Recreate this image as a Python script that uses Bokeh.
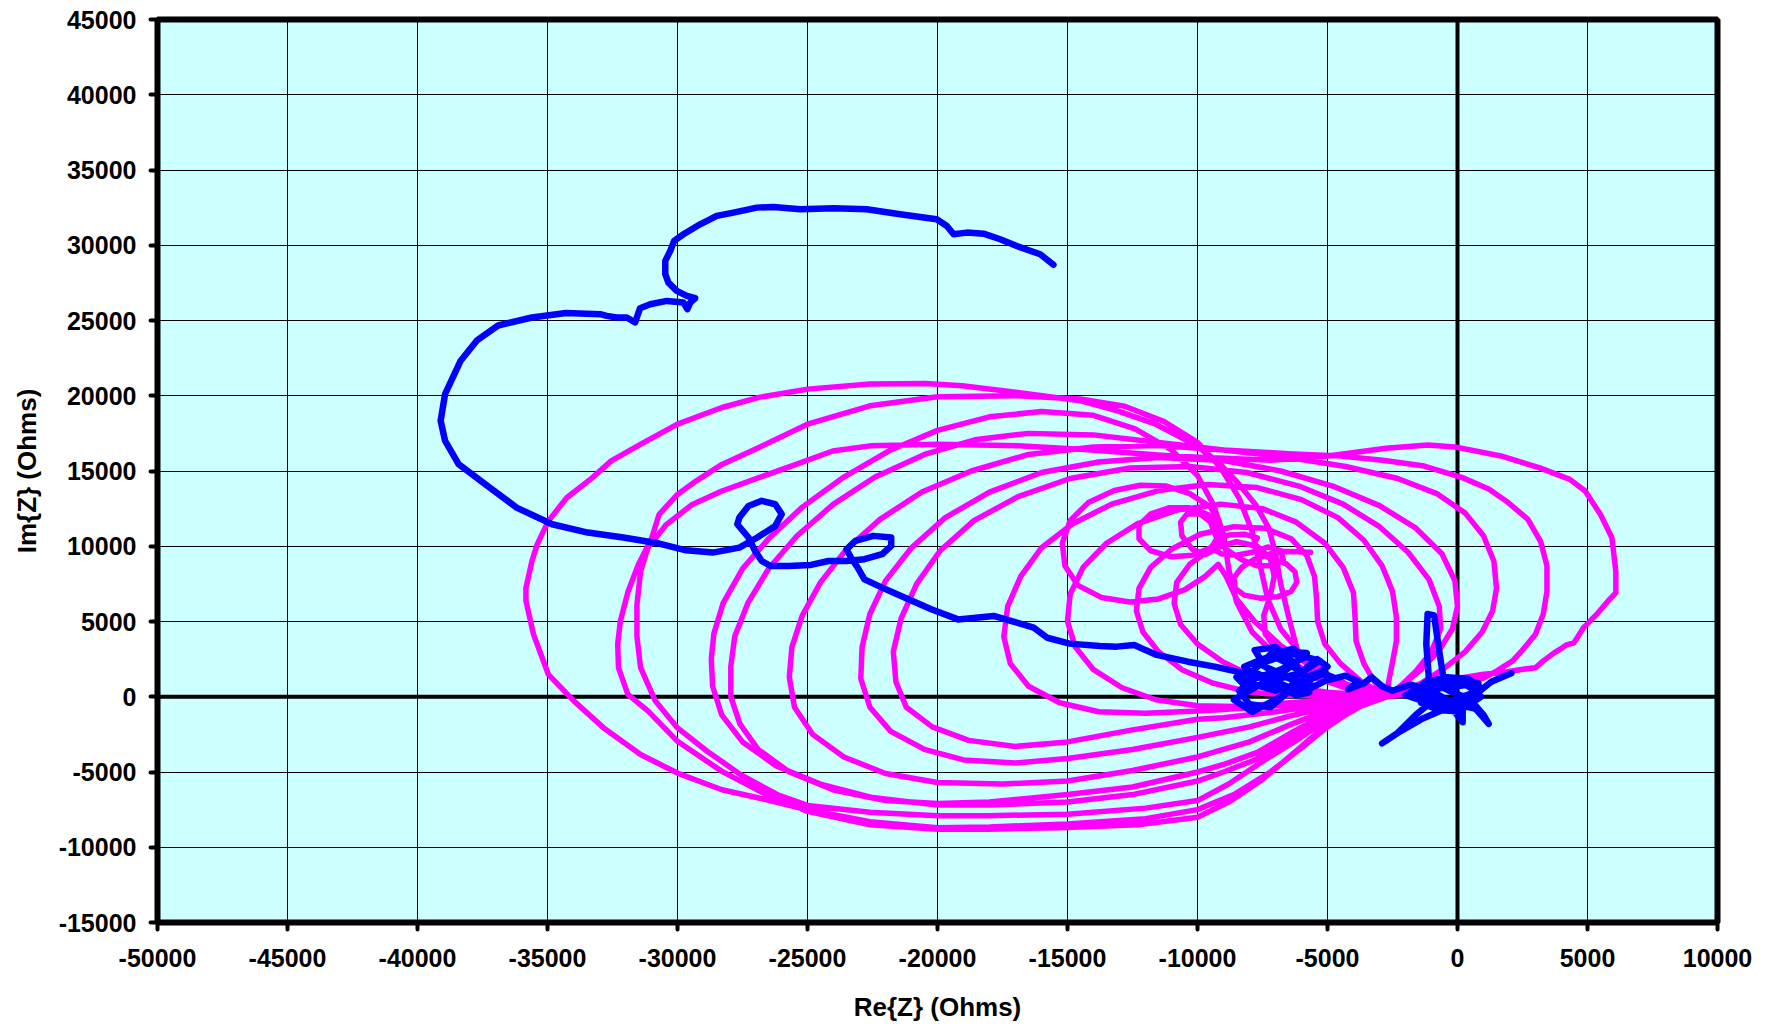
from bokeh.plotting import figure
from bokeh.models import Range1d, FixedTicker, NumeralTickFormatter, Span
from bokeh.embed import file_html
from bokeh.resources import INLINE

# ---------------- data (Ohms) ----------------
x_ticks = [-50000, -45000, -40000, -35000, -30000, -25000, -20000, -15000, -10000, -5000, 0, 5000, 10000]
y_ticks = [-15000, -10000, -5000, 0, 5000, 10000, 15000, 20000, 25000, 30000, 35000, 40000, 45000]

# magenta trace, loop by loop (x, y)
mag_inner = [(-5650, 9600), (-6200, 9640), (-6700, 9650), (-7200, 9500), (-7800, 9150), (-8300, 8600),
             (-8600, 7900), (-8550, 7200), (-8200, 6750), (-7600, 6550), (-6900, 6650), (-6400, 7000),
             (-6180, 7600), (-6250, 8300), (-6600, 8850), (-7200, 9200), (-7700, 9600), (-7850, 10100),
             (-7700, 10550), (-8200, 10800), (-8800, 10750), (-9300, 10400), (-9450, 9900), (-9100, 9500),
             (-8500, 9400), (-7900, 9600), (-7300, 9950), (-6800, 9700), (-6700, 9100), (-7100, 8700),
             (-7700, 8700), (-8300, 9100), (-8900, 9800), (-9300, 10700), (-9500, 11600), (-9900, 12150),
             (-10400, 12150), (-10650, 11600), (-10600, 10700), (-10200, 9800), (-9700, 9450), (-9300, 9800),
             (-9150, 10500), (-9200, 11300), (-9600, 12100), (-10300, 12550), (-11100, 12550), (-11800, 12150),
             (-12250, 11400), (-12250, 10500), (-11800, 9700), (-11000, 9300), (-10200, 9400), (-9500, 9900),
             (-9150, 10600), (-9150, 11500), (-9500, 12600), (-10300, 13500), (-11200, 14000), (-12200, 14050),
             (-13200, 13700), (-14200, 12900), (-14900, 11700), (-15200, 10200), (-15100, 8700), (-14600, 7400),
             (-13700, 6600), (-12600, 6300), (-11500, 6500), (-10500, 7100), (-9700, 8000), (-9200, 8800),
             (-8900, 8000), (-8500, 6500), (-7800, 5000), (-6800, 3400), (-5700, 2100), (-4400, 900), (-2700, 0)]
mag_loop_m = [(-3800, 150), (-5000, 300), (-6500, 650), (-7800, 1300), (-9000, 2300), (-10000, 3500),
              (-10650, 4800), (-10900, 6200), (-10800, 7600), (-10300, 8800), (-9500, 9800), (-8500, 10300),
              (-7700, 10000), (-7200, 9200), (-7050, 8000), (-7200, 6700), (-7450, 5400), (-7400, 4200),
              (-6900, 3000), (-6000, 1900), (-4800, 1000), (-3700, 400), (-2700, 0)]
mag_loop_l = [(-3800, 50), (-5000, 100), (-6500, 100), (-8000, 300), (-9400, 900), (-10600, 1800),
              (-11500, 3000), (-12100, 4300), (-12350, 5700), (-12250, 7200), (-11800, 8600), (-11000, 9800),
              (-9900, 10800), (-8600, 11300), (-7400, 11200), (-6400, 10500), (-5800, 9400), (-5500, 8000),
              (-5420, 6500), (-5380, 5000), (-5100, 3500), (-4500, 2200), (-3700, 1000), (-2700, 0)]
mag_loop_k = [(-3800, -100), (-5000, -200), (-6800, -450), (-8500, -650), (-10000, -600), (-11600, -200),
              (-12900, 600), (-14000, 1800), (-14700, 3300), (-15000, 5000), (-14900, 6800), (-14400, 8600),
              (-13500, 10200), (-12300, 11500), (-10800, 12400), (-9100, 12800), (-7500, 12500), (-6200, 11600),
              (-5100, 10200), (-4400, 8600), (-4000, 6900), (-3940, 5300), (-3900, 3700), (-3600, 2200),
              (-3200, 1000), (-2700, 0)]
mag_loop_j = [(-4000, -150), (-5000, -300), (-7000, -600), (-9000, -850), (-10000, -950), (-12000, -1100),
              (-13800, -1000), (-15300, -400), (-16500, 700), (-17200, 2200), (-17450, 4000), (-17300, 6000),
              (-16800, 8000), (-16000, 9900), (-14800, 11500), (-13300, 12800), (-11500, 13700), (-9600, 14100),
              (-7700, 13900), (-6000, 13100), (-4600, 11900), (-3600, 10400), (-2900, 8700), (-2500, 7000),
              (-2350, 5300), (-2350, 3700), (-2500, 2300), (-2650, 1000), (-2700, 0)]
mag_loop_i = [(-3800, -150), (-5000, -500), (-7000, -1000), (-9000, -1400), (-10000, -1500), (-12500, -2200),
              (-15000, -3000), (-17000, -3300), (-18800, -2900), (-20200, -2000), (-21200, -700), (-21600, 1000),
              (-21700, 3000), (-21400, 5200), (-20800, 7500), (-19900, 9700), (-18600, 11700), (-16900, 13300),
              (-14900, 14500), (-12600, 15200), (-10300, 15300), (-8100, 14900), (-6100, 14000), (-4400, 12800),
              (-3000, 11300), (-1900, 9600), (-1100, 7800), (-700, 6000), (-650, 4500), (-1000, 3000),
              (-1600, 1700), (-2200, 700), (-2700, 0)]
mag_loop_h = [(-3800, -250), (-5000, -700), (-6500, -1300), (-8000, -2000), (-10000, -2700), (-12500, -3500),
              (-15000, -4100), (-17000, -4400), (-19000, -4200), (-20500, -3500), (-21800, -2300), (-22600, -700),
              (-22950, 1200), (-22900, 3300), (-22600, 5500), (-22000, 7700), (-21000, 9900), (-19700, 11900),
              (-18000, 13600), (-16000, 14900), (-13800, 15600), (-11500, 15900), (-9000, 15700), (-6800, 15000),
              (-4800, 14000), (-3000, 12700), (-1600, 11200), (-600, 9500), (-100, 7700), (0, 6000), (-200, 4500),
              (-700, 3100), (-1400, 1800), (-2100, 800), (-2700, 0)]
mag_loop_g = [(-3800, -300), (-5000, -900), (-6500, -1900), (-8000, -3000), (-10000, -4000), (-12500, -4900),
              (-15000, -5600), (-17500, -5800), (-20000, -5700), (-22000, -5100), (-23600, -4000), (-24800, -2500),
              (-25500, -700), (-25700, 1300), (-25600, 3300), (-25200, 5400), (-24500, 7600), (-23500, 9800),
              (-22200, 11800), (-20600, 13600), (-18700, 15000), (-16500, 16100), (-14000, 16600), (-11500, 16700),
              (-9000, 16400), (-6500, 15900), (-4300, 15300), (-2300, 14500), (-800, 13500), (300, 12200),
              (1000, 10700), (1400, 9000), (1500, 7200), (1350, 5700), (950, 4300), (300, 3000), (-500, 1900),
              (-1400, 900), (-2700, 0)]
mag_loop_f = [(-3800, -400), (-5000, -1100), (-6300, -2300), (-7700, -3700), (-9000, -4500), (-10000, -5000),
              (-12500, -6000), (-15000, -6500), (-18000, -7000), (-20000, -7100), (-22000, -6900), (-24000, -6200),
              (-25700, -5000), (-26900, -3500), (-27600, -1800), (-27950, 0), (-27950, 2000), (-27800, 4000),
              (-27300, 6200), (-26500, 8500), (-25400, 10700), (-24000, 12800), (-22400, 14600), (-20500, 16100),
              (-18500, 17100), (-16500, 17500), (-14000, 17400), (-11500, 16900), (-9000, 16400), (-6500, 16150),
              (-4500, 16000), (-2800, 15700), (-1280, 15330), (190, 14560), (1200, 13800), (1950, 12900),
              (2700, 11800), (3200, 10300), (3440, 8700), (3440, 7000), (3300, 5500), (3000, 4160), (2500, 3100),
              (2120, 2380), (1500, 1700), (940, 1200), (0, 750), (-1200, 350), (-2700, 0)]
mag_loop_d = [(-3800, -500), (-5000, -1300), (-6300, -2600), (-7800, -4200), (-9000, -5000), (-10000, -5600),
              (-12500, -6500), (-15000, -7000), (-18000, -7200), (-20000, -7200), (-22500, -6700), (-24500, -5800),
              (-26200, -4600), (-27500, -3000), (-28300, -1200), (-28650, 700), (-28700, 2500), (-28600, 4200),
              (-28250, 6200), (-27500, 8500), (-26500, 10500), (-25200, 12600), (-23600, 14600), (-21800, 16400),
              (-20000, 17700), (-18000, 18600), (-16000, 18950), (-14000, 18700), (-12400, 17800), (-11000, 16400),
              (-10000, 14700), (-9400, 12800), (-9000, 10800), (-8800, 8500), (-8500, 6300), (-7900, 4300),
              (-6900, 2600), (-5500, 1300), (-4000, 400), (-2700, 0)]
mag_loop_c = [(-3700, -600), (-4400, -1300), (-5000, -1800), (-6200, -3600), (-7500, -5500), (-8800, -7000),
              (-10000, -8000), (-12300, -8500), (-15300, -8700), (-18000, -8800), (-20000, -8800), (-22600, -8510),
              (-25000, -7620), (-26580, -6510), (-28290, -4960), (-30000, -2960), (-31130, -960), (-31910, 160),
              (-32270, 1930), (-32300, 3500), (-32200, 5000), (-31900, 7000), (-31500, 8800), (-31000, 10500),
              (-30710, 12110), (-30000, 13440), (-29290, 14330), (-28290, 15440), (-26870, 16560), (-25000, 18110),
              (-22600, 19330), (-20000, 19930), (-16910, 20000), (-14520, 19780), (-12800, 19300), (-11300, 18300),
              (-10000, 16900), (-9100, 15200), (-8400, 13200), (-7900, 11000), (-7600, 8800), (-7300, 6500),
              (-6800, 4500), (-6000, 2800), (-5000, 1500), (-3900, 500), (-2700, 0)]
mag_loop_a = [(-3600, -500), (-4300, -1200), (-5000, -2000), (-6000, -3400), (-7200, -5000), (-8600, -6500),
              (-10000, -7500), (-12000, -8100), (-15000, -8450), (-18000, -8650), (-20000, -8700), (-22600, -8300),
              (-25000, -7510), (-26870, -6730), (-28290, -6180), (-30000, -5070), (-31420, -3840), (-32840, -2070),
              (-33980, -290), (-34970, 1490), (-35540, 4160), (-35830, 6380), (-35830, 7220), (-35600, 9000),
              (-35400, 10110), (-34970, 11670), (-34260, 13220), (-33270, 14560), (-32550, 15670), (-31410, 16780),
              (-30000, 18110), (-28290, 19220), (-26870, 19890), (-25000, 20440), (-22600, 20780), (-20470, 20820),
              (-19050, 20670), (-16910, 20220), (-14520, 19670), (-13080, 19000), (-11610, 18110), (-10130, 16780),
              (-9250, 15670), (-8510, 14330), (-7770, 12780), (-7260, 11220), (-7000, 9500), (-6800, 7500),
              (-6450, 5000), (-6150, 3040), (-5700, 1900), (-4800, 1000), (-3800, 350), (-2700, 0)]
mag_loop_b = [(-3700, -500), (-5000, -1500), (-6200, -2900), (-7500, -4300), (-8800, -5800), (-10000, -6900),
              (-12000, -7400), (-15000, -7800), (-18000, -7900), (-20000, -7900), (-22600, -7670), (-25000, -7220),
              (-26150, -6510), (-27570, -5180), (-28860, -3620), (-30000, -2070), (-30850, -290), (-31420, 1930),
              (-31560, 4000), (-31560, 6110), (-31420, 8330), (-31140, 9890), (-30430, 11440), (-29430, 12780),
              (-28290, 13670), (-26870, 14560), (-25440, 15440), (-24030, 16330), (-22600, 16670), (-20000, 16780),
              (-16900, 16670), (-14500, 16440), (-11000, 16000), (-7180, 15710), (-4970, 16000), (-2760, 16510),
              (-1140, 16730), (-100, 16600), (1670, 16000), (3140, 15220), (4320, 14440), (4910, 13670),
              (5500, 12110), (5940, 10560), (6090, 8330), (6090, 6900), (5800, 6380), (5350, 5470), (4840, 4580),
              (4600, 3900), (4470, 3580), (4200, 3450), (4030, 3250), (3700, 2900), (3290, 2370), (3000, 1930),
              (2400, 1800), (1670, 1600), (1000, 1500), (190, 1260), (-600, 1000), (-1280, 710), (-2000, 450),
              (-2700, 0)]

# blue trace (x, y)
blue_arc = [(-15540, 28700), (-16050, 29400), (-16950, 29950), (-17590, 30400), (-18230, 30770), (-18870, 30840),
            (-19380, 30730), (-19640, 31280), (-20030, 31730), (-20670, 31880), (-21440, 32060), (-22080, 32230),
            (-22720, 32390), (-24000, 32460), (-25280, 32390), (-26310, 32540), (-26950, 32500), (-27850, 32170),
            (-28490, 31950), (-29130, 31390), (-29770, 30730), (-30130, 30290), (-30280, 29620), (-30470, 28960),
            (-30470, 28080), (-30350, 27520), (-30030, 26970), (-29640, 26640), (-29320, 26480), (-29510, 26190),
            (-29620, 25750), (-29770, 26190), (-30410, 26300), (-31050, 26080), (-31440, 25820), (-31630, 24870),
            (-31950, 25200), (-32330, 25200), (-32720, 25310), (-32970, 25420), (-34290, 25500), (-35600, 25200),
            (-36900, 24670), (-37700, 23700), (-38340, 22330), (-38940, 20110), (-39110, 18340), (-38940, 17010),
            (-38420, 15450), (-37220, 13900), (-36190, 12570), (-34820, 11460), (-33450, 10910), (-32080, 10580),
            (-30700, 10180), (-29670, 9730), (-28640, 9580)]
blue_loops = [(-27620, 9910), (-26930, 10580), (-26240, 11350), (-25990, 12130), (-26240, 12790), (-26760, 13020),
              (-27270, 12680), (-27620, 11910), (-27700, 11460), (-27270, 10580), (-27020, 9690), (-26760, 9020),
              (-26420, 8690), (-25730, 8690), (-24870, 8760), (-24190, 9020), (-23500, 9020), (-22810, 9140),
              (-22130, 9470), (-21780, 10020), (-21780, 10580), (-22470, 10690), (-23160, 10350), (-23500, 9800),
              (-23330, 9250), (-23070, 8580), (-22810, 7800), (-22130, 7250), (-21270, 6590), (-20240, 5810),
              (-19210, 5140), (-17840, 5370), (-17150, 5030), (-16300, 4590), (-15780, 3920), (-14920, 3530),
              (-13760, 3370), (-13110, 3330), (-12430, 3440), (-12000, 3100), (-11570, 2780), (-10370, 2330),
              (-9340, 2000), (-8480, 1670)]
blue_tangle1 = [(-8000, 1500), (-7200, 2800), (-6300, 3200), (-5900, 2600), (-6800, 1800), (-7800, 1200),
                (-8400, 400), (-8000, -500), (-7200, -700), (-6600, 200), (-6100, 1500), (-5400, 2500),
                (-5000, 2000), (-5800, 1000), (-7000, 400), (-8200, 1000), (-7600, 2200), (-6400, 2900),
                (-5300, 2400), (-6000, 1600), (-7500, 900), (-8600, -200), (-7900, -1000), (-6800, 0),
                (-6000, 900), (-5200, 1500), (-4800, 1300), (-5500, 700), (-6500, 1300), (-7400, 2000),
                (-7800, 3100), (-7000, 3300), (-6300, 2300), (-5600, 600), (-6200, 400), (-7100, 1100),
                (-7900, 1700), (-8500, 1300), (-8100, 600), (-7300, 900), (-6500, 1900), (-5800, 2900),
                (-6600, 3000), (-7500, 2500), (-8200, 2000), (-7700, 1400), (-6900, 700), (-6200, 100),
                (-5700, 300), (-6300, 1100), (-7000, 1600), (-7700, 2300), (-7100, 2700), (-6400, 2100),
                (-5800, 1300), (-5100, 1800), (-5000, 1100), (-4300, 1400), (-3800, 1000), (-4200, 500),
                (-3600, 900), (-3300, 1300), (-2900, 700), (-2500, 400)]
blue_tangle2 = [(-1800, 800), (-1000, 400), (-300, -300), (500, 200), (800, 900), (0, 1100), (-800, 500),
                (-1400, -400), (-700, -900), (300, -700), (900, 0), (400, 800), (-500, 600), (-1100, 1200),
                (-1200, 3500), (-1150, 5500), (-900, 5400), (-700, 3000), (-500, 800), (0, 200), (600, -400),
                (1000, -1200), (1200, -1800), (700, -800), (0, -500), (-900, -200), (-1600, -1200), (-2300, -2400),
                (-2900, -3100), (-2200, -2300), (-1400, -1500), (-600, -900), (200, -1000), (200, -1700),
                (-200, -800), (-1000, 0), (-1800, 200), (-1200, 1000), (-400, 1300), (400, 1200), (900, 600),
                (600, -200), (-200, 300), (-900, 900), (-1500, 600), (-2000, 100), (-1300, -300), (-400, -500),
                (400, -300), (700, 400), (200, 900), (-600, 1000), (-1400, 300), (-800, -600), (100, -100),
                (800, 300), (1300, 1000), (2070, 1560)]

# ---------------- build ----------------
mag_path = (mag_inner + mag_loop_m + mag_loop_l + mag_loop_k + mag_loop_j + mag_loop_i + mag_loop_h
            + mag_loop_g + mag_loop_f + mag_loop_d + mag_loop_c + mag_loop_a + mag_loop_b)
blue_path = blue_arc + blue_loops + blue_tangle1 + blue_tangle2

FONT = "Liberation Sans"

p = figure(width=1760, height=1024,
           x_range=Range1d(-50000, 10000), y_range=Range1d(-15000, 45000),
           output_backend="svg", toolbar_location=None,
           background_fill_color="#CCFFFF", border_fill_color="white",
           min_border_left=157, min_border_right=43, min_border_top=19, min_border_bottom=102)

p.line([pt[0] for pt in mag_path], [pt[1] for pt in mag_path],
       line_color="#FF00FF", line_width=5.5, line_join="round", line_cap="round")
p.line([pt[0] for pt in blue_path], [pt[1] for pt in blue_path],
       line_color="#0000FF", line_width=6.5, line_join="round", line_cap="round")

p.add_layout(Span(location=0, dimension="height", line_color="black", line_width=4, level="underlay"))
p.add_layout(Span(location=0, dimension="width", line_color="black", line_width=4, level="underlay"))

p.outline_line_color = "black"
p.outline_line_width = 6

p.xaxis.ticker = FixedTicker(ticks=x_ticks)
p.yaxis.ticker = FixedTicker(ticks=y_ticks)
for ax in (p.xaxis, p.yaxis):
    ax.formatter = NumeralTickFormatter(format="0")
    ax.axis_line_color = None
    ax.major_tick_line_color = "black"
    ax.major_tick_line_width = 4
    ax.major_tick_line_cap = "round"
    ax.major_tick_out = 7
    ax.major_tick_in = 0
    ax.minor_tick_line_color = None
    ax.major_label_text_font = FONT
    ax.major_label_text_font_style = "bold"
    ax.major_label_text_font_size = "25px"
    ax.major_label_text_color = "black"
    ax.axis_label_text_font = FONT
    ax.axis_label_text_font_style = "bold"
    ax.axis_label_text_font_size = "26px"
    ax.axis_label_text_color = "black"

p.xaxis.axis_label = "Re{Z} (Ohms)"
p.yaxis.axis_label = "Im{Z} (Ohms)"
p.xaxis.major_label_standoff = 19
p.yaxis.major_label_standoff = 14
p.xaxis.axis_label_standoff = 22
p.yaxis.axis_label_standoff = 14

p.grid.grid_line_color = "black"
p.grid.grid_line_width = 1
p.grid.grid_line_alpha = 1

open("out.html", "w").write(file_html(p, INLINE))
